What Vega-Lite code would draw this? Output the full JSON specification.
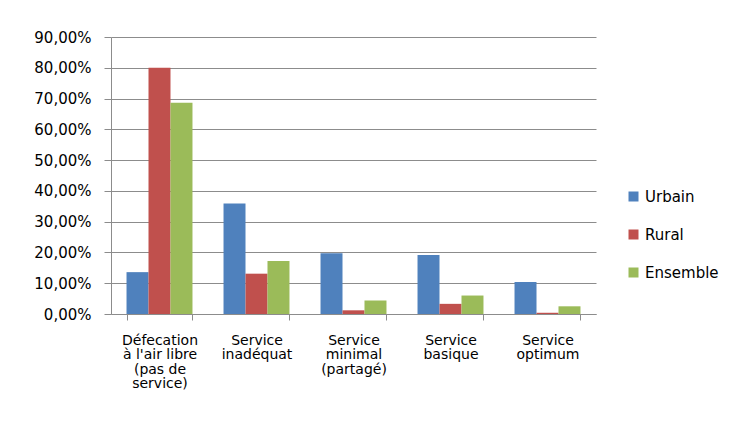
{
  "$schema": "https://vega.github.io/schema/vega-lite/v6.json",
  "autosize": {"type": "none"},
  "padding": {"left": 111, "top": 37, "right": 141, "bottom": 134},
  "width": 485,
  "height": 277,
  "background": "white",
  "data": {
    "values": [
      {"cat": "Défecation|à l'air libre|(pas de|service)", "serie": "Urbain", "val": 0.136},
      {"cat": "Défecation|à l'air libre|(pas de|service)", "serie": "Rural", "val": 0.800},
      {"cat": "Défecation|à l'air libre|(pas de|service)", "serie": "Ensemble", "val": 0.686},
      {"cat": "Service|inadéquat", "serie": "Urbain", "val": 0.359},
      {"cat": "Service|inadéquat", "serie": "Rural", "val": 0.131},
      {"cat": "Service|inadéquat", "serie": "Ensemble", "val": 0.172},
      {"cat": "Service|minimal|(partagé)", "serie": "Urbain", "val": 0.197},
      {"cat": "Service|minimal|(partagé)", "serie": "Rural", "val": 0.012},
      {"cat": "Service|minimal|(partagé)", "serie": "Ensemble", "val": 0.044},
      {"cat": "Service|basique", "serie": "Urbain", "val": 0.192},
      {"cat": "Service|basique", "serie": "Rural", "val": 0.033},
      {"cat": "Service|basique", "serie": "Ensemble", "val": 0.060},
      {"cat": "Service|optimum", "serie": "Urbain", "val": 0.104},
      {"cat": "Service|optimum", "serie": "Rural", "val": 0.004},
      {"cat": "Service|optimum", "serie": "Ensemble", "val": 0.025}
    ]
  },
  "mark": {"type": "bar"},
  "encoding": {
    "x": {
      "field": "cat",
      "type": "nominal",
      "sort": null,
      "scale": {"paddingInner": 0.32, "paddingOuter": 0.16},
      "axis": {
        "title": null,
        "labelAngle": 0,
        "labelExpr": "split(datum.label, '|')",
        "labelFont": "DejaVu Sans",
        "labelFontSize": 14,
        "labelLineHeight": 14.6,
        "labelColor": "#000000",
        "labelPadding": 13,
        "labelBaseline": "top",
        "tickBand": "extent",
        "tickSize": 6,
        "tickColor": "#8c8c8c",
        "domainColor": "#8c8c8c",
        "grid": false
      }
    },
    "xOffset": {"field": "serie", "type": "nominal", "sort": ["Urbain", "Rural", "Ensemble"], "scale": {"paddingInner": 0, "paddingOuter": 0}},
    "y": {
      "field": "val",
      "type": "quantitative",
      "scale": {"domain": [0, 0.9], "nice": false},
      "axis": {
        "title": null,
        "values": [0, 0.1, 0.2, 0.3, 0.4, 0.5, 0.6, 0.7, 0.8, 0.9],
        "labelExpr": "replace(format(datum.value, '.2%'), '.', ',')",
        "labelFont": "DejaVu Sans",
        "labelFontSize": 15,
        "labelColor": "#000000",
        "labelPadding": 13,
        "tickSize": 7,
        "tickColor": "#8c8c8c",
        "domainColor": "#8c8c8c",
        "gridColor": "#8c8c8c",
        "gridOpacity": 1
      }
    },
    "color": {
      "field": "serie",
      "type": "nominal",
      "scale": {"domain": ["Urbain", "Rural", "Ensemble"], "range": ["#4F81BD", "#C0504D", "#9BBB59"]},
      "legend": {
        "title": null,
        "orient": "none",
        "legendX": 515,
        "legendY": 152,
        "padding": 0,
        "symbolType": "square",
        "symbolSize": 100,
        "symbolStrokeWidth": 0,
        "labelFont": "DejaVu Sans",
        "labelFontSize": 15,
        "labelColor": "#000000",
        "labelOffset": 4,
        "rowPadding": 22
      }
    }
  },
  "config": {"view": {"stroke": null}}
}
